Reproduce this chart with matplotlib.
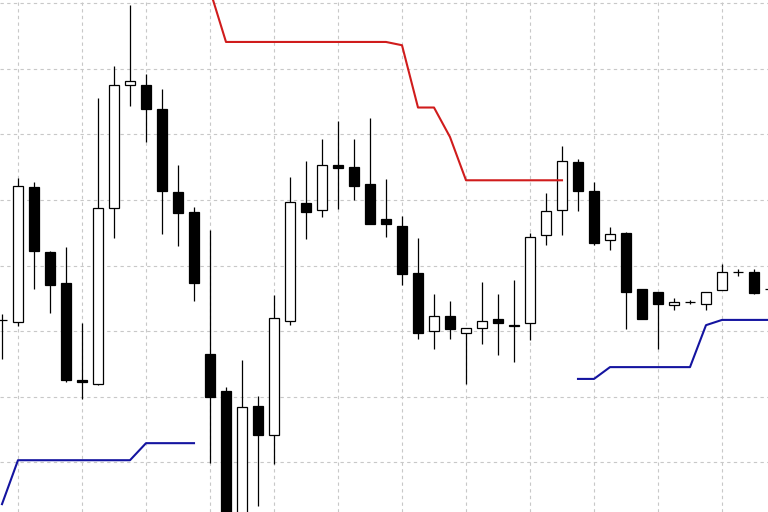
import matplotlib
matplotlib.use('Agg')
import matplotlib.pyplot as plt
import numpy as np

# candle data (price units, grid every 10)
opens = [121.7, 121.4, 141.9, 132.0, 127.3, 112.5, 111.9, 138.7, 157.6, 157.6,
         153.8, 141.2, 138.1, 116.5, 110.8, 91.9, 108.5, 104.1, 121.5, 139.5,
         138.4, 145.4, 145.0, 142.4, 137.1, 136.0, 128.8, 120.0, 122.3, 119.7,
         120.4, 121.8, 120.7, 121.2, 134.6, 138.4, 145.8, 141.3, 133.9, 134.9,
         126.4, 125.9, 123.9, 124.4, 124.2, 126.2, 129.0, 129.0, 126.4]
highs = [122.6, 143.3, 142.7, 132.2, 132.8, 121.2, 155.5, 160.4, 169.7, 159.2,
         156.9, 145.3, 138.9, 135.4, 111.4, 115.6, 110.1, 125.5, 143.5, 145.9,
         149.3, 152.0, 149.3, 152.5, 143.2, 137.5, 134.2, 125.6, 124.6, 120.4,
         127.5, 125.6, 127.8, 134.9, 141.0, 148.3, 146.2, 142.7, 135.8, 135.1,
         126.4, 125.9, 125.0, 124.7, 125.9, 130.2, 129.4, 129.4, 126.7]
lows = [115.7, 120.7, 126.4, 122.7, 112.2, 109.6, 111.7, 134.2, 154.4, 148.8,
        134.8, 132.9, 124.6, 99.8, 88.1, 91.2, 93.3, 99.7, 121.0, 134.0,
        137.4, 138.6, 140.0, 136.3, 134.3, 127.1, 118.8, 117.2, 118.8, 112.0,
        118.0, 116.3, 115.3, 118.6, 133.2, 134.6, 138.3, 133.2, 132.3, 120.3,
        121.8, 117.2, 123.2, 124.1, 123.2, 126.2, 128.4, 125.6, 126.1]
closes = [121.7, 142.1, 132.2, 127.0, 112.5, 112.2, 138.7, 157.5, 158.1, 153.8,
          141.3, 138.0, 127.3, 109.9, 90.4, 108.4, 104.1, 122.0, 139.7, 138.1,
          145.4, 144.8, 142.1, 136.3, 136.3, 128.7, 119.7, 122.3, 120.3, 120.4,
          121.5, 121.2, 121.0, 134.3, 138.3, 145.9, 141.3, 133.4, 134.8, 125.9,
          121.8, 124.1, 124.4, 124.4, 125.9, 129.0, 129.0, 125.8, 126.4]

# upper stop (red) and lower stop (blue) segments
red_idx = list(range(13, 36))
red_vals = [172.0, 164.1, 164.1, 164.1, 164.1, 164.1, 164.1, 164.1, 164.1, 164.1,
            164.1, 164.1, 163.6, 154.1, 154.1, 149.6, 143.0, 143.0, 143.0, 143.0,
            143.0, 143.0, 143.0]
blue1_idx = list(range(0, 13))
blue1_vals = [93.6, 100.3, 100.3, 100.3, 100.3, 100.3, 100.3, 100.3, 100.3, 102.9,
              102.9, 102.9, 102.9]
blue2_idx = list(range(36, 49))
blue2_vals = [112.7, 112.7, 114.5, 114.5, 114.5, 114.5, 114.5, 114.5, 120.9, 121.7,
              121.7, 121.7, 121.7]

fig = plt.figure(figsize=(7.68, 5.12), dpi=100)
ax = fig.add_axes([0, 0, 1, 1])
ax.set_xlim(-0.125, 47.875)
ax.set_ylim(92.4, 170.5)

# dashed grid
for gx in range(1, 49, 4):
    ax.axvline(gx, color='#c8c8c8', lw=0.8, ls=(0, (3, 3)), zorder=0)
for gy in range(100, 171, 10):
    ax.axhline(gy, color='#c8c8c8', lw=0.8, ls=(0, (3, 3)), zorder=0)

x = np.arange(len(opens))
o = np.array(opens)
c = np.array(closes)
ax.vlines(x, lows, highs, color='black', lw=0.9, zorder=1)
body_col = ['white' if cc >= oo else 'black' for oo, cc in zip(o, c)]
ax.bar(x, np.abs(c - o), bottom=np.minimum(o, c), width=0.62,
       color=body_col, edgecolor='black', linewidth=0.9, zorder=2)

ax.plot(red_idx, red_vals, color='#d01c1c', lw=1.5, zorder=3)
ax.plot(blue1_idx, blue1_vals, color='#1414a0', lw=1.5, zorder=3)
ax.plot(blue2_idx, blue2_vals, color='#1414a0', lw=1.5, zorder=3)

ax.set_xticks([])
ax.set_yticks([])
for s in ax.spines.values():
    s.set_visible(False)

fig.savefig('out.png', dpi=100)
